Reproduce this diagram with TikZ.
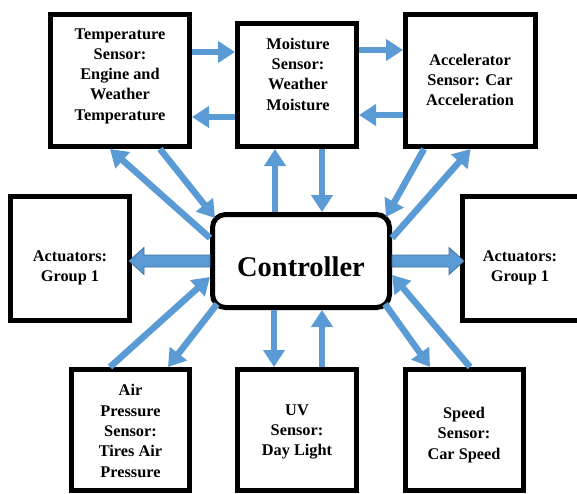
\documentclass[tikz,border=0pt]{standalone}
\usepackage{fontspec}
\setmainfont{Liberation Serif}
\usetikzlibrary{arrows.meta,calc}
\definecolor{arrowblue}{HTML}{5B9BD5}
\definecolor{arrowdark}{HTML}{41719C}
\begin{document}
\begin{tikzpicture}[x=1pt,y=-1pt,
  box/.style={draw=black, line width=5pt, fill=white, inner sep=0pt},
  txt/.style={align=center, font=\fontsize{16.3}{20.3}\selectfont\bfseries, inner sep=0pt},
  arr/.style={draw=arrowblue, line width=6.5pt, -{Triangle[length=17pt,width=21pt]}},
  blk/.style={fill=arrowblue, draw=arrowdark, line width=0.8pt, line join=miter}]
\useasboundingbox (0,0) rectangle (577,493);
% boxes
\node[box, minimum width=139pt, minimum height=132pt] (temp) at (120,80.5) {};
\node[box, minimum width=119pt, minimum height=123pt] (moist) at (297,85) {};
\node[box, minimum width=130pt, minimum height=132pt] (accel) at (470.5,80.5) {};
\node[box, minimum width=119pt, minimum height=124pt] (actL) at (70,258.5) {};
\node[box, minimum width=120pt, minimum height=124pt] (actR) at (522.5,258.5) {};
\node[box, minimum width=118pt, minimum height=121pt] (air) at (130.5,430) {};
\node[box, minimum width=119pt, minimum height=121pt] (uv) at (297,430) {};
\node[box, minimum width=118pt, minimum height=121pt] (speed) at (464.5,430) {};
\node[box, rounded corners=13pt, minimum width=177pt, minimum height=93pt] (ctrl) at (301,261) {};
% block arrows
\draw[blk] ($(ctrl.west)+(0,6pt)$) -- ($(ctrl.west -| actL.east)+(12pt,6pt)$)
  -- ($(ctrl.west -| actL.east)+(12pt,13.5pt)$) -- ($(ctrl.west -| actL.east)+(-3pt,0)$)
  -- ($(ctrl.west -| actL.east)+(12pt,-13.5pt)$) -- ($(ctrl.west -| actL.east)+(12pt,-6pt)$)
  -- ($(ctrl.west)+(0,-6pt)$) -- cycle;
\draw[blk] ($(ctrl.east)+(0,6pt)$) -- ($(ctrl.east -| actR.west)+(-11pt,6pt)$)
  -- ($(ctrl.east -| actR.west)+(-11pt,13.5pt)$) -- ($(ctrl.east -| actR.west)+(4pt,0)$)
  -- ($(ctrl.east -| actR.west)+(-11pt,-13.5pt)$) -- ($(ctrl.east -| actR.west)+(-11pt,-6pt)$)
  -- ($(ctrl.east)+(0,-6pt)$) -- cycle;
% top row horizontal arrows
\draw[arr] ([yshift=28.5pt]temp.east) -- ([yshift=33pt]moist.west);
\draw[arr] ([yshift=-32pt]moist.west) -- ([yshift=-36.5pt]temp.east);
\draw[arr] ([yshift=35pt]moist.east) -- ([yshift=30.5pt]accel.west);
\draw[arr] ([yshift=-34.5pt]accel.west) -- ([yshift=-30pt]moist.east);
% controller <-> top sensors
\draw[arr] ([yshift=23pt]ctrl.west) -- ([xshift=-10pt]temp.south);
\draw[arr] ([xshift=40pt]temp.south) -- ([shift={(5pt,-6pt)}]ctrl.north west);
\draw[arr] ([xshift=-26pt]ctrl.north) -- ([xshift=-22pt]moist.south);
\draw[arr] ([xshift=25pt]moist.south) -- ([xshift=21pt]ctrl.north);
\draw[arr] ([xshift=-46.5pt]accel.south) -- ([shift={(-6pt,-5pt)}]ctrl.north east);
\draw[arr] ([yshift=23pt]ctrl.east) -- (accel.south);
% controller <-> bottom sensors
\draw[arr] ([xshift=-20.5pt]air.north) -- ([yshift=-16pt]ctrl.west);
\draw[arr] ([shift={(7pt,6pt)}]ctrl.south west) -- ([xshift=37.5pt]air.north);
\draw[arr] ([xshift=-27pt]ctrl.south) -- ([xshift=-23pt]uv.north);
\draw[arr] ([xshift=25pt]uv.north) -- ([xshift=21pt]ctrl.south);
\draw[arr] ([shift={(-7pt,6pt)}]ctrl.south east) -- ([xshift=-34.5pt]speed.north);
\draw[arr] ([xshift=5.5pt]speed.north) -- ([yshift=-14pt]ctrl.east);
% texts
\node[txt] (tempT) at (120,76) {Temperature\\Sensor:\\Engine and\\Weather\\Temperature};
\node[txt] (moistT) at (298,74) {Moisture\\Sensor:\\Weather\\Moisture};
\node[txt] (accelT) at (470,80) {Accelerator\\Sensor: Car\\Acceleration};
\node[txt] (actLT) at (70,268) {Actuators:\\Group 1};
\node[txt] (actRT) at (520,268) {Actuators:\\Group 1};
\node[txt] (airT) at (130.5,431) {Air\\Pressure\\Sensor:\\Tires Air\\Pressure};
\node[txt] (uvT) at (297,432) {UV\\Sensor:\\Day Light};
\node[txt] (speedT) at (464,435) {Speed\\Sensor:\\Car Speed};
\node[font=\fontsize{28.5}{32}\selectfont\bfseries, inner sep=0pt] (ctrlT) at (301,267) {Controller};
\end{tikzpicture}
\end{document}
